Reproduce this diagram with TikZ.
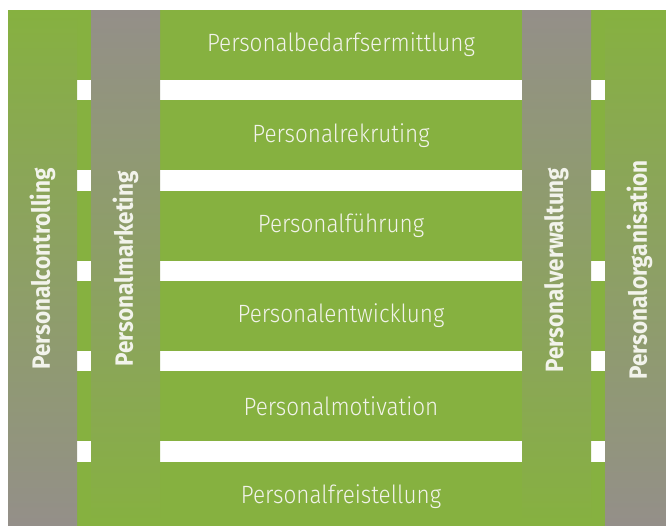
\documentclass[tikz,border=0pt]{standalone}
\usepackage{fontspec}
\setmainfont{Fira Sans}[FakeStretch=0.9]
\newfontfamily\lightfont{Fira Sans}[UprightFont=* Light, FakeStretch=0.9]
\definecolor{bandgreen}{RGB}{134,177,64}
\definecolor{colgray}{RGB}{148,143,137}
\definecolor{txt}{RGB}{242,243,235}
\begin{document}
\begin{tikzpicture}[x=1pt,y=-1pt,
  band/.style={fill=bandgreen, draw=none, minimum width=666pt, minimum height=70pt,
    inner sep=0pt, outer sep=0pt, anchor=north west, text=txt,
    font=\lightfont\fontsize{25}{30}\selectfont},
  colgreen/.style={shade, top color=bandgreen, bottom color=colgray, draw=none,
    minimum width=69pt, minimum height=515pt, inner sep=0pt, outer sep=0pt, anchor=north west},
  colgrey/.style={shade, top color=colgray, bottom color=bandgreen, draw=none,
    minimum width=69pt, minimum height=515pt, inner sep=0pt, outer sep=0pt, anchor=north west},
  vtext/.style={rotate=90, text=txt, inner sep=0pt, font=\bfseries\fontsize{25}{30}\selectfont}]
\useasboundingbox (0,0) rectangle (666,525);
\clip (0,0) rectangle (666,525);
\node[band] (b1) at (8,10) {Personalbedarfsermittlung};
\node[band] (b2) at (8,100.3) {Personalrekruting};
\node[band] (b3) at (8,190.6) {Personalführung};
\node[band] (b4) at (8,280.9) {Personalentwicklung};
\node[band] (b5) at (8,371.2) {Personalmotivation};
\node[band, minimum height=70pt] (b6) at (8,461.5) {Personalfreistellung};
\node[colgreen] (c1) at (8,10) {};
\node[colgrey] (c2) at (91,10) {};
\node[colgrey] (c4) at (522,10) {};
\node[colgreen] (c5) at (605,10) {};
\node[vtext] (t1) at (42.5,269) {Personalcontrolling};
\node[vtext] (t2) at (125.5,269) {Personalmarketing};
\node[vtext] (t4) at (556.5,270) {Personalverwaltung};
\node[vtext] (t5) at (639.5,270) {Personalorganisation};
\end{tikzpicture}
\end{document}
